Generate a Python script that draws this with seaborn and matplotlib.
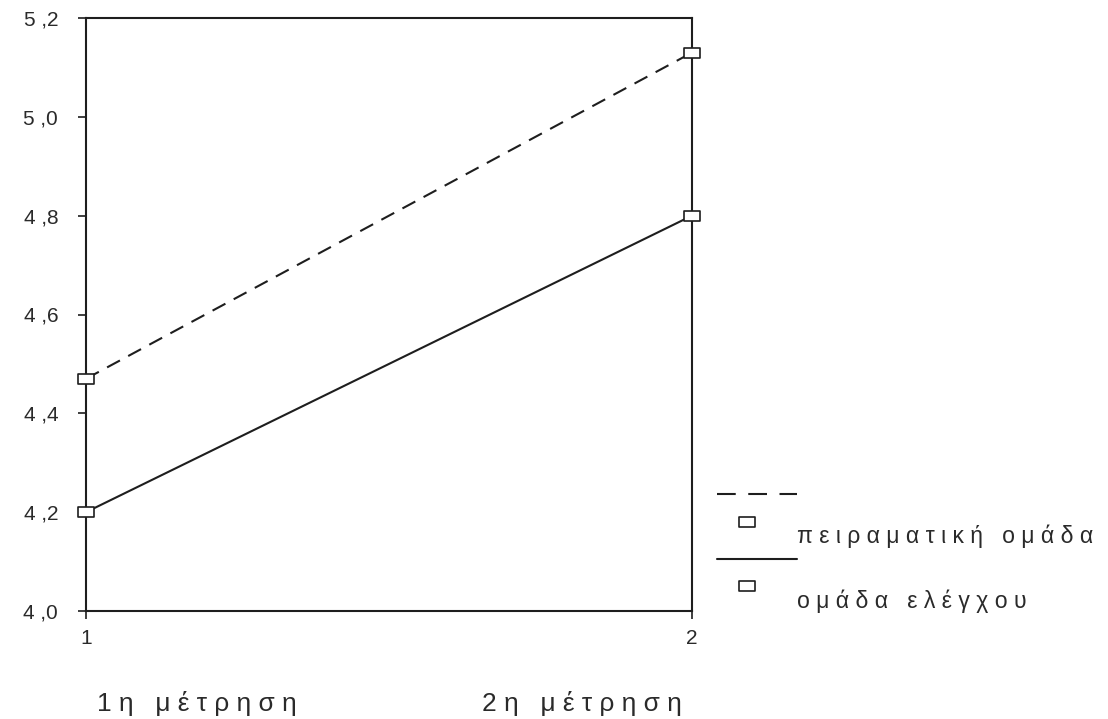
import seaborn as sns
import matplotlib.pyplot as plt
import pandas as pd
from matplotlib.lines import Line2D
from matplotlib.path import Path

# Data
measurements = [1, 2]
groups = ["πειραματική ομάδα", "ομάδα ελέγχου"]
experimental = [4.47, 5.13]
control = [4.20, 4.80]
y_ticks = [4.0, 4.2, 4.4, 4.6, 4.8, 5.0, 5.2]
x_labels = ["1η μέτρηση", "2η μέτρηση"]


def spaced(s):
    return " ".join(s)


df = pd.DataFrame({
    "measurement": measurements * 2,
    "value": experimental + control,
    "group": [groups[0]] * 2 + [groups[1]] * 2,
})

sns.set_style("white")
plt.rcParams['font.family'] = ['Liberation Sans', 'DejaVu Sans']

# wide hollow rectangle marker
rect = Path([(-1.7, -1), (1.7, -1), (1.7, 1), (-1.7, 1), (-1.7, -1)],
            [Path.MOVETO, Path.LINETO, Path.LINETO, Path.LINETO, Path.CLOSEPOLY])

ink = "#1e1e1e"
txt = "#2a2a2a"
fig = plt.figure(figsize=(11.08, 7.19), dpi=100)
ax = fig.add_axes([86 / 1108, 1 - 611 / 719, 606 / 1108, 593 / 719])

sns.lineplot(data=df, x="measurement", y="value", style="group",
             style_order=groups, dashes={groups[0]: (7, 4.5), groups[1]: ""},
             color=ink, linewidth=1.5, ax=ax, legend=False)
for vals in (experimental, control):
    ax.plot(measurements, vals, linestyle="none", marker=rect, markersize=12,
            markerfacecolor="white", markeredgecolor=ink, markeredgewidth=1.2,
            clip_on=False, zorder=5)

ax.set_xlim(1, 2)
ax.set_ylim(4.0, 5.2)
ax.set_xticks(measurements)
ax.set_xticklabels([str(m) for m in measurements])
ax.set_yticks(y_ticks)
ax.set_yticklabels([f"{t:.1f}".replace(".", " ,") for t in y_ticks])
ax.set_xlabel("")
ax.set_ylabel("")
for sp in ax.spines.values():
    sp.set_color(ink)
    sp.set_linewidth(1.5)
ax.tick_params(axis="both", direction="out", length=6, width=1.2, color=ink,
               labelsize=15, labelcolor=txt, left=True, bottom=True)
ax.tick_params(axis="y", pad=14)
ax.tick_params(axis="x", pad=7)


# legend drawn beside the axes
def fx(px):
    return px / 1108


def fy(py):
    return 1 - py / 719


fig.add_artist(Line2D([fx(717), fx(797)], [fy(494), fy(494)], color=ink,
                      linewidth=1.5, dashes=(9, 6)))
fig.add_artist(Line2D([fx(717), fx(797)], [fy(559), fy(559)], color=ink,
                      linewidth=1.5))
for py in (522, 586):
    fig.add_artist(Line2D([fx(747)], [fy(py)], linestyle="none", marker=rect,
                          markersize=12, markerfacecolor="white",
                          markeredgecolor=ink, markeredgewidth=1.2))
fig.text(fx(797), fy(543), spaced(groups[0]), fontsize=16.6, color=txt,
         va="baseline", ha="left")
fig.text(fx(797), fy(608), spaced(groups[1]), fontsize=16.6, color=txt,
         va="baseline", ha="left")

# measurement captions under the axis
fig.text(fx(97), fy(711), spaced(x_labels[0]), fontsize=18.9, color=txt,
         va="baseline", ha="left")
fig.text(fx(482), fy(711), spaced(x_labels[1]), fontsize=18.9, color=txt,
         va="baseline", ha="left")

fig.savefig("out.png", dpi=100)
